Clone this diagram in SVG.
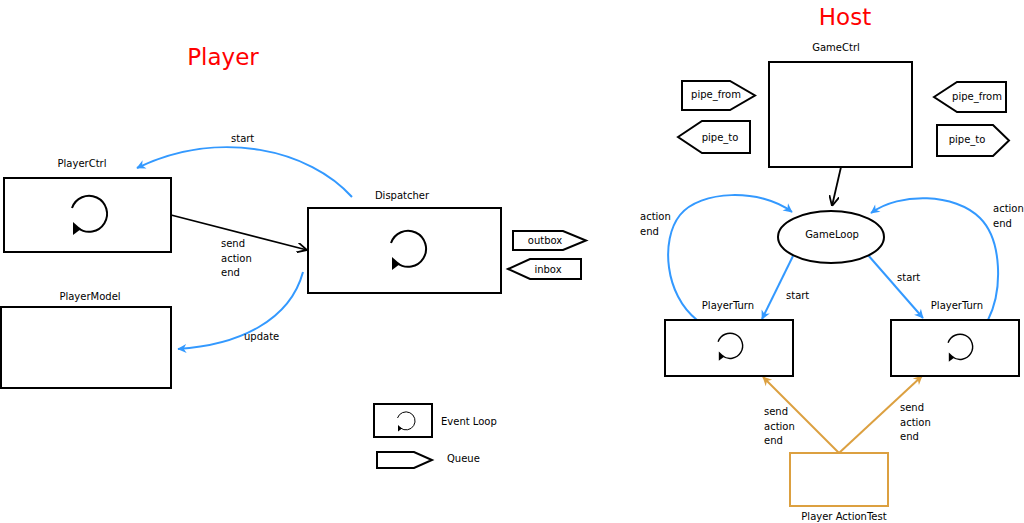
<svg xmlns="http://www.w3.org/2000/svg" xmlns:xlink="http://www.w3.org/1999/xlink" width="1024" height="523" viewBox="0 0 1024 523">
<style>
text{font-family:"DejaVu Sans",Verdana,sans-serif;font-size:10px;fill:#000;}
.title{font-size:23px;fill:#ff0000;text-anchor:middle;}
.c{text-anchor:middle;}
.box{fill:#fff;stroke:#000;stroke-width:2;}
.q{fill:#fff;stroke:#000;stroke-width:2;}
.blue{fill:none;stroke:#3399ff;stroke-width:2;}
.blk{fill:none;stroke:#000;stroke-width:1.8;}
.org{fill:none;stroke:#dca040;stroke-width:2;}
</style>
<defs>
<marker id="ab" viewBox="0 0 10 10" refX="9" refY="5" markerWidth="7" markerHeight="7" orient="auto" markerUnits="userSpaceOnUse" overflow="visible">
<path d="M0,0 L10,5 L0,10 L3,5 Z" fill="#3399ff" transform="scale(1.3) translate(-2.3,-1.15)"/>
</marker>
<marker id="ao" viewBox="0 0 10 10" refX="9" refY="5" markerWidth="7" markerHeight="7" orient="auto" markerUnits="userSpaceOnUse" overflow="visible">
<path d="M0,0 L10,5 L0,10 L3,5 Z" fill="#dca040" transform="scale(1.3) translate(-2.3,-1.15)"/>
</marker>
<marker id="ak" viewBox="0 0 10 10" refX="10" refY="5" markerWidth="10" markerHeight="10" orient="auto" markerUnits="userSpaceOnUse">
<path d="M0,0 L10,5 L0,10" fill="none" stroke="#000" stroke-width="1.8"/>
</marker>
<g id="loop">
<path d="M-17,-6 A18,18 0 1 1 -11,14" fill="none" stroke="#000" stroke-width="2"/>
<path d="M-16,8 L-16,21 L-8,15 Z" fill="#000"/>
</g>
</defs>

<text class="title" x="223" y="65">Player</text>
<text class="title" x="845" y="25">Host</text>

<g id="connectors">
<path class="blue" d="M352,197 C310,150 220,128 137,168" marker-end="url(#ab)"/>
<text x="231" y="142">start</text>
<path class="blk" d="M171,215 L307,250" marker-end="url(#ak)"/>
<text x="221" y="247">send</text>
<text x="221" y="262">action</text>
<text x="221" y="276">end</text>
<path class="blue" d="M303,272 C290,320 240,345 178,349" marker-end="url(#ab)"/>
<text x="244" y="340">update</text>

<path class="blk" d="M841,167 L832,206" marker-end="url(#ak)"/>
<path class="blue" d="M793,256 L762,319" marker-end="url(#ab)"/>
<text x="786" y="299">start</text>
<path class="blue" d="M868,255 L923,318" marker-end="url(#ab)"/>
<text x="897" y="281">start</text>
<path class="blue" d="M697,320 C665,295 660,240 680,215 C700,190 760,188 792,212" marker-end="url(#ab)"/>
<text x="640" y="220">action</text>
<text x="640" y="235">end</text>
<path class="blue" d="M988,320 C1003,290 1002,240 980,218 C955,193 900,192 871,213" marker-end="url(#ab)"/>
<text x="993" y="212">action</text>
<text x="993" y="227">end</text>
<path class="org" d="M839,453 L763,377" marker-end="url(#ao)"/>
<path class="org" d="M839,453 L922,376" marker-end="url(#ao)"/>
<text x="764" y="415">send</text>
<text x="764" y="430">action</text>
<text x="764" y="444">end</text>
<text x="900" y="411">send</text>
<text x="900" y="426">action</text>
<text x="900" y="440">end</text>
</g>

<g id="PlayerCtrl">
<text class="c" x="82" y="167">PlayerCtrl</text>
<rect class="box" x="4" y="178" width="167" height="74"/>
<use xlink:href="#loop" transform="translate(89,214)"/>
</g>
<g id="PlayerModel">
<text class="c" x="90" y="300">PlayerModel</text>
<rect class="box" x="1" y="307" width="170" height="81"/>
</g>
<g id="Dispatcher">
<text class="c" x="402" y="199">Dispatcher</text>
<rect class="box" x="308" y="208" width="193" height="85"/>
<use xlink:href="#loop" transform="translate(408,249)"/>
</g>
<g id="outbox">
<path class="q" d="M513,231 H563 L586,240.5 L563,250 H513 Z"/>
<text class="c" x="545" y="244">outbox</text>
</g>
<g id="inbox">
<path class="q" d="M508,269 L530,259 H581 V279 H530 Z"/>
<text class="c" x="548" y="273">inbox</text>
</g>
<g id="legend">
<rect class="box" x="374" y="404" width="58" height="33"/>
<use xlink:href="#loop" transform="translate(406,421) scale(0.5)"/>
<text x="441" y="425">Event Loop</text>
<path class="q" d="M377,452 H414 L432,460 L414,468 H377 Z"/>
<text x="447" y="462">Queue</text>
</g>

<g id="GameCtrl">
<text class="c" x="836" y="51">GameCtrl</text>
<rect class="box" x="769" y="62" width="143" height="105"/>
</g>
<g id="pipe_from_left">
<path class="q" d="M682,81 H730 L755,95.5 L730,110 H682 Z"/>
<text class="c" x="716" y="98">pipe_from</text>
</g>
<g id="pipe_to_left">
<path class="q" d="M678,137 L702,121 H750 V153 H702 Z"/>
<text class="c" x="720" y="141">pipe_to</text>
</g>
<g id="pipe_from_right">
<path class="q" d="M934,97 L957,82 H1006 V112 H957 Z"/>
<text class="c" x="977" y="100">pipe_from</text>
</g>
<g id="pipe_to_right">
<path class="q" d="M937,125 H993 L1009,140.5 L993,156 H937 Z"/>
<text class="c" x="967" y="143">pipe_to</text>
</g>
<g id="GameLoop">
<ellipse cx="831" cy="237" rx="53" ry="26" fill="#fff" stroke="#000" stroke-width="2"/>
<text class="c" x="832" y="238">GameLoop</text>
</g>
<g id="PlayerTurn1">
<text class="c" x="728" y="309">PlayerTurn</text>
<rect class="box" x="665" y="320" width="128" height="56"/>
<use xlink:href="#loop" transform="translate(730,346) scale(0.7)"/>
</g>
<g id="PlayerTurn2">
<text class="c" x="957" y="309">PlayerTurn</text>
<rect class="box" x="891" y="320" width="128" height="56"/>
<use xlink:href="#loop" transform="translate(960,347) scale(0.7)"/>
</g>
<g id="PlayerActionTest">
<rect x="790" y="453" width="98" height="53" fill="#fff" stroke="#dca040" stroke-width="2"/>
<text class="c" x="844" y="520">Player ActionTest</text>
</g>
</svg>
